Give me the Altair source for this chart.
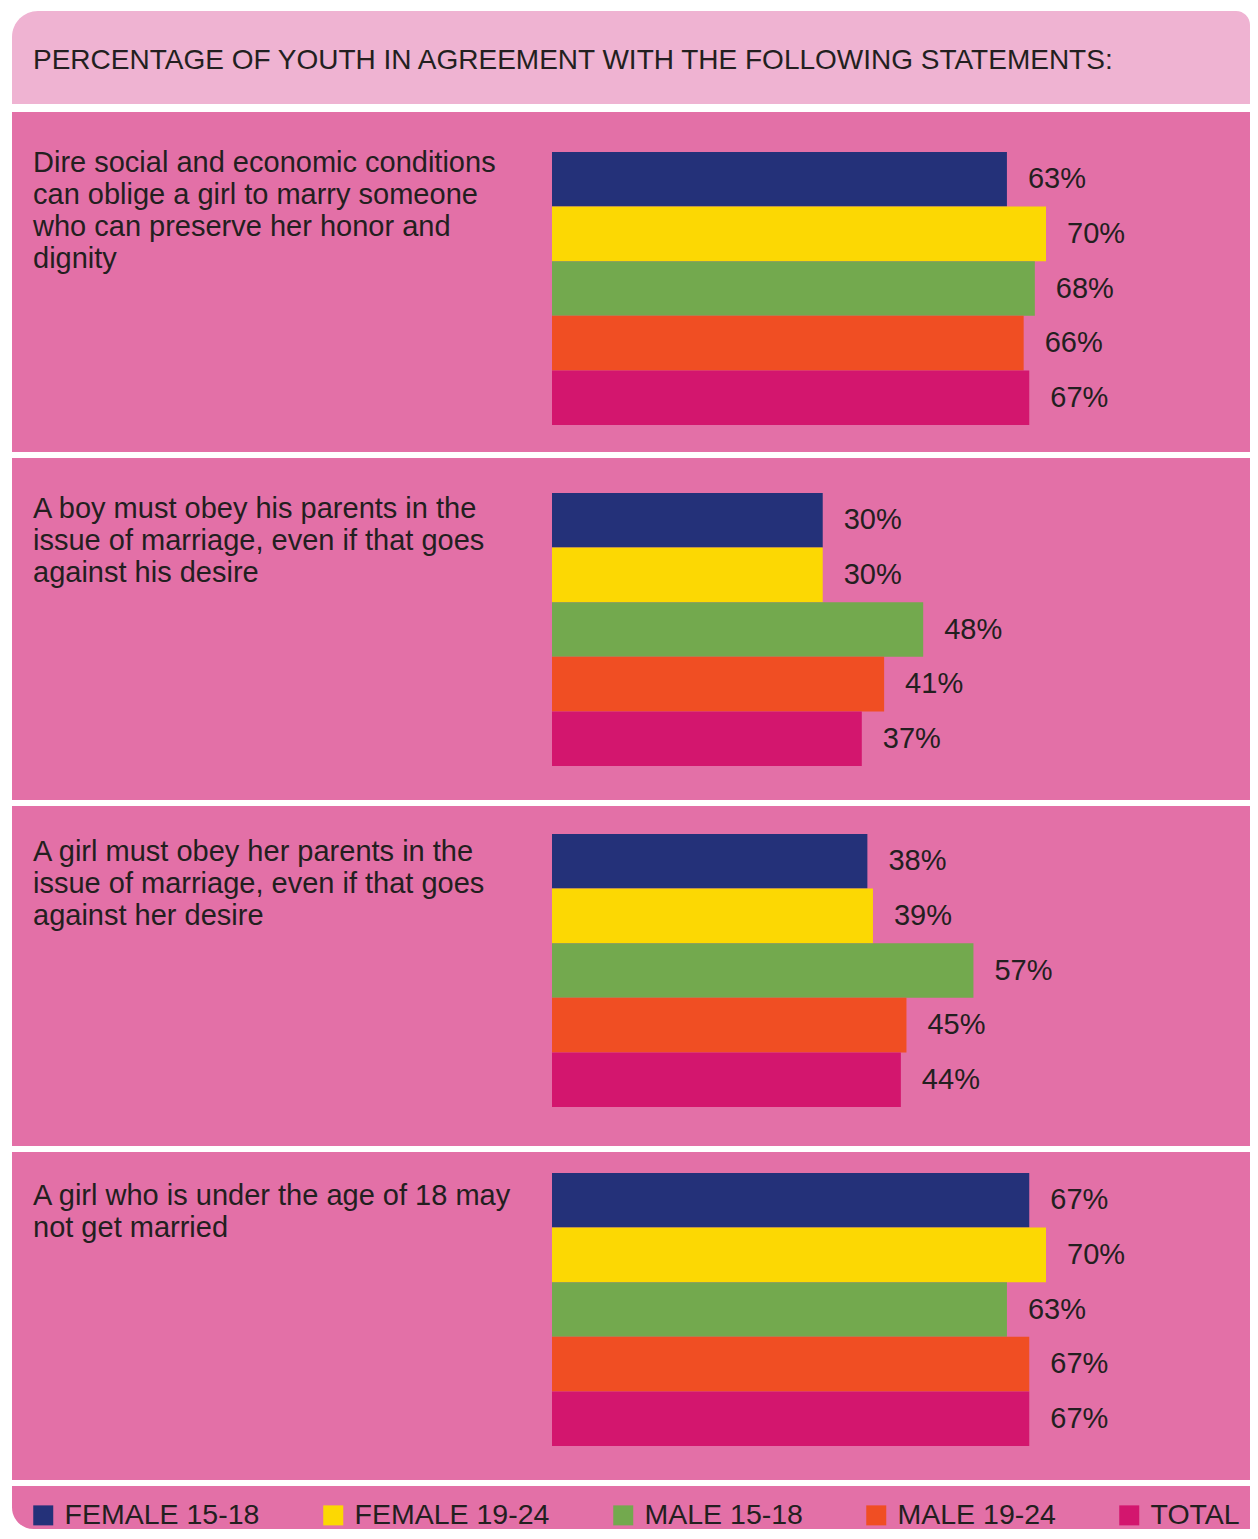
import altair as alt
import pandas as pd

# ---- data ----
groups = ["FEMALE 15-18", "FEMALE 19-24", "MALE 15-18", "MALE 19-24", "TOTAL"]
colors = ["#243179", "#FCD803", "#73A94E", "#F04E23", "#D3166E"]

title_text = "PERCENTAGE OF YOUTH IN AGREEMENT WITH THE FOLLOWING STATEMENTS:"

statement1 = ["Dire social and economic conditions", "can oblige a girl to marry someone",
              "who can preserve her honor and", "dignity"]
statement2 = ["A boy must obey his parents in the", "issue of marriage, even if that goes",
              "against his desire"]
statement3 = ["A girl must obey her parents in the", "issue of marriage, even if that goes",
              "against her desire"]
statement4 = ["A girl who is under the age of 18 may", "not get married"]

values1 = [63, 70, 68, 66, 67]
values2 = [30, 30, 48, 41, 37]
values3 = [38, 39, 57, 45, 44]
values4 = [67, 70, 63, 67, 67]

# ---- style ----
FONT = "Liberation Sans"
TXT = "#231F20"
HEADER_PINK = "#EFB3D2"
PANEL_PINK = "#E370A7"
W = 1238

one_row = pd.DataFrame({"k": [0]})


def panel(values, lines, height, bar_top, text_y):
    df = pd.DataFrame({"group": groups, "value": values})
    base = alt.Chart(df).transform_calculate(label="datum.value + '%'")
    xs = alt.Scale(domain=[-18.5, 70], range=[540, 1034])
    ys = alt.Scale(domain=groups, range=[bar_top, bar_top + 273], paddingInner=0, paddingOuter=0)
    bars = base.mark_bar(cornerRadius=0).encode(
        x=alt.X("value:Q", scale=xs, axis=None),
        x2=alt.datum(-18.5),
        y=alt.Y("group:N", scale=ys, axis=None),
        color=alt.Color(
            "group:N",
            scale=alt.Scale(domain=groups, range=colors),
            legend=alt.Legend(
                title=None, orient="none", legendX=17, legendY=1490,
                direction="horizontal", columns=5,
                symbolType="square", symbolSize=400, symbolStrokeWidth=0,
                symbolOpacity=1, labelFont=FONT, labelFontSize=28.5,
                labelColor=TXT, labelOffset=7, columnPadding=59,
                padding=0, labelLimit=400,
            ),
        ),
    )
    labels = base.mark_text(
        align="left", baseline="middle", dx=21, font=FONT, fontSize=29, color=TXT
    ).encode(
        x=alt.X("value:Q", scale=xs, axis=None),
        y=alt.Y("group:N", scale=ys, axis=None),
        text="label:N",
    )
    stmt = alt.Chart(one_row).mark_text(
        text=lines, align="left", baseline="alphabetic", font=FONT, fontSize=29,
        color=TXT, lineHeight=32,
    ).encode(x=alt.value(21), y=alt.value(text_y))
    return alt.layer(bars, labels, stmt).properties(
        width=W, height=height, view=alt.ViewBackground(fill=PANEL_PINK, strokeWidth=0)
    )


header_rect = alt.Chart(one_row).mark_rect(
    color=HEADER_PINK, cornerRadiusTopLeft=26, cornerRadiusTopRight=14
).encode(x=alt.value(0), x2=alt.value("width"), y=alt.value(0), y2=alt.value(93))
header_text = alt.Chart(one_row).mark_text(
    text=title_text, align="left", baseline="alphabetic", font=FONT, fontSize=28, color=TXT
).encode(x=alt.value(21), y=alt.value(58))
header = alt.layer(header_rect, header_text).properties(width=W, height=95)

p1 = panel(values1, statement1, 340, 40, 60)
p2 = panel(values2, statement2, 342, 35, 60)
p3 = panel(values3, statement3, 340, 28, 55)
p4 = panel(values4, statement4, 328, 21, 53)

legend_band = alt.Chart(one_row).mark_rect(
    color=PANEL_PINK, cornerRadiusBottomLeft=22
).encode(x=alt.value(0), x2=alt.value("width"), y=alt.value(0), y2=alt.value("height")).properties(
    width=W, height=43
)

chart = alt.vconcat(header, p1, p2, p3, p4, legend_band, spacing=6).properties(
    padding={"left": 4, "top": 3, "right": 0, "bottom": 0}, background="white"
).configure_view(strokeWidth=0)

chart.save("out.html", embed_options={"renderer": "svg", "actions": False})
